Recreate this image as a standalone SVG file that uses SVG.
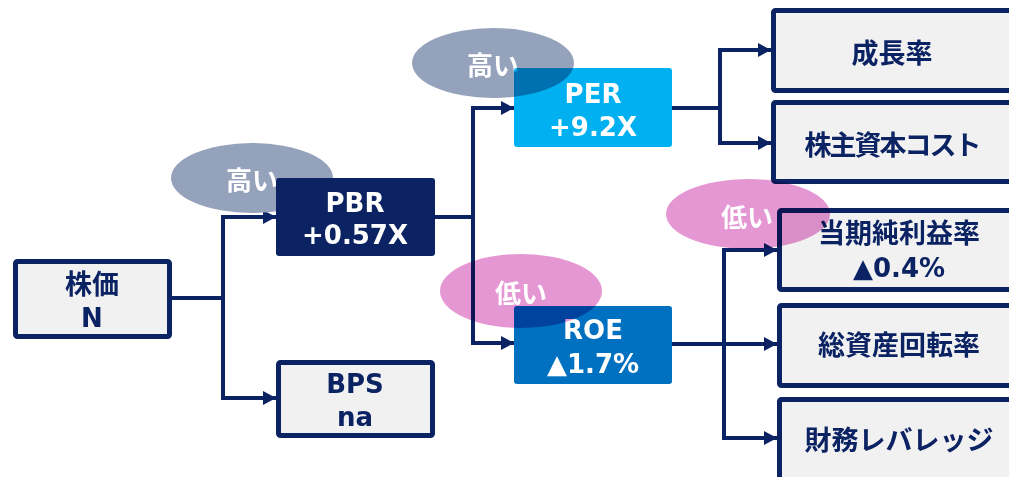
<svg xmlns="http://www.w3.org/2000/svg" width="1009" height="477" viewBox="0 0 1009 477">
<defs>
<marker id="arr" markerUnits="userSpaceOnUse" markerWidth="13" markerHeight="14" refX="13" refY="7" orient="auto">
<path d="M0,0 L13,7 L0,14 z" fill="#0b2263"/>
</marker>
<style>
.box{fill:#f1f1f1;stroke:#0b2263;stroke-width:5}
.t{font-family:"DejaVu Sans","Noto Sans CJK JP",sans-serif;font-weight:bold;text-anchor:middle}
.dk{fill:#0b2263}
.wt{fill:#ffffff}
.jp{font-size:27px}
.tag{font-size:26px}
.lat{font-size:26px}
.conn path{fill:none;stroke:#0b2263;stroke-width:4}
.grey{fill:#95a2bc}
.pink{fill:#e597d4;mix-blend-mode:multiply}
.mul{mix-blend-mode:multiply}
</style>
</defs>
<rect width="1009" height="477" fill="#ffffff"/>
<g id="connectors" class="conn">
<path d="M171,298 H223"/>
<path d="M223,298 V217 H276" marker-end="url(#arr)"/>
<path d="M223,298 V398 H276" marker-end="url(#arr)"/>
<path d="M435,217 H473"/>
<path d="M473,217 V108 H514" marker-end="url(#arr)"/>
<path d="M473,217 V343 H514" marker-end="url(#arr)"/>
<path d="M672,108 H720"/>
<path d="M720,108 V50 H771" marker-end="url(#arr)"/>
<path d="M720,108 V143 H771" marker-end="url(#arr)"/>
<path d="M672,344 H724"/>
<path d="M724,344 V250 H777" marker-end="url(#arr)"/>
<path d="M724,344 H777" marker-end="url(#arr)"/>
<path d="M724,344 V438 H777" marker-end="url(#arr)"/>
</g>
<g id="label-pbr-high">
<ellipse cx="252" cy="178" rx="81" ry="35" class="grey"/>
<text x="252" y="190" class="t wt tag">高い</text>
</g>
<g id="label-per-high">
<ellipse cx="493" cy="63" rx="81" ry="35" class="grey"/>
<text x="493" y="75" class="t wt tag">高い</text>
</g>
<g id="node-kabuka">
<rect x="15.5" y="261.5" width="154" height="75" rx="2" class="box"/>
<text x="92" y="294" class="t dk jp">株価</text>
<text x="92" y="327" class="t dk lat">N</text>
</g>
<g id="node-pbr">
<rect x="276" y="178" width="159" height="78" rx="3" fill="#0b2263"/>
<text x="355" y="212" class="t wt lat">PBR</text>
<text x="355" y="244" class="t wt lat">+0.57X</text>
</g>
<g id="node-bps">
<rect x="278.5" y="362.5" width="154" height="73" rx="2" class="box"/>
<text x="355" y="393" class="t dk lat">BPS</text>
<text x="355" y="426" class="t dk lat">na</text>
</g>
<g id="node-per">
<rect x="514" y="68" width="158" height="79" rx="3" fill="#00b0f0" class="mul"/>
<text x="593" y="103" class="t wt lat">PER</text>
<text x="593" y="136" class="t wt lat">+9.2X</text>
</g>
<g id="node-roe">
<rect x="514" y="306" width="158" height="78" rx="3" fill="#0070c0"/>
<text x="593" y="339" class="t wt lat">ROE</text>
<text x="593" y="373" class="t wt lat">▲1.7%</text>
</g>
<g id="node-growth">
<rect x="773.5" y="10.5" width="250" height="80" rx="2" class="box"/>
<text x="892" y="63" class="t dk jp">成長率</text>
</g>
<g id="node-coe">
<rect x="773.5" y="102.5" width="250" height="79" rx="2" class="box"/>
<text x="893" y="155" class="t dk jp" textLength="177" lengthAdjust="spacing">株主資本コスト</text>
</g>
<g id="node-npm">
<rect x="779.5" y="210.5" width="250" height="79" rx="2" class="box"/>
<text x="899" y="243" class="t dk jp">当期純利益率</text>
<text x="899" y="277" class="t dk lat">▲0.4%</text>
</g>
<g id="node-turnover">
<rect x="779.5" y="305.5" width="250" height="80" rx="2" class="box"/>
<text x="899" y="355" class="t dk jp">総資産回転率</text>
</g>
<g id="node-leverage">
<rect x="779.5" y="399.5" width="250" height="90" rx="2" class="box"/>
<text x="899" y="450" class="t dk jp">財務レバレッジ</text>
</g>
<g id="label-roe-low">
<ellipse cx="521" cy="291" rx="81" ry="37" class="pink"/>
<text x="521" y="303" class="t wt tag">低い</text>
</g>
<g id="label-npm-low">
<ellipse cx="748" cy="214" rx="82" ry="35" class="pink"/>
<text x="747" y="227" class="t wt tag">低い</text>
</g>
</svg>
